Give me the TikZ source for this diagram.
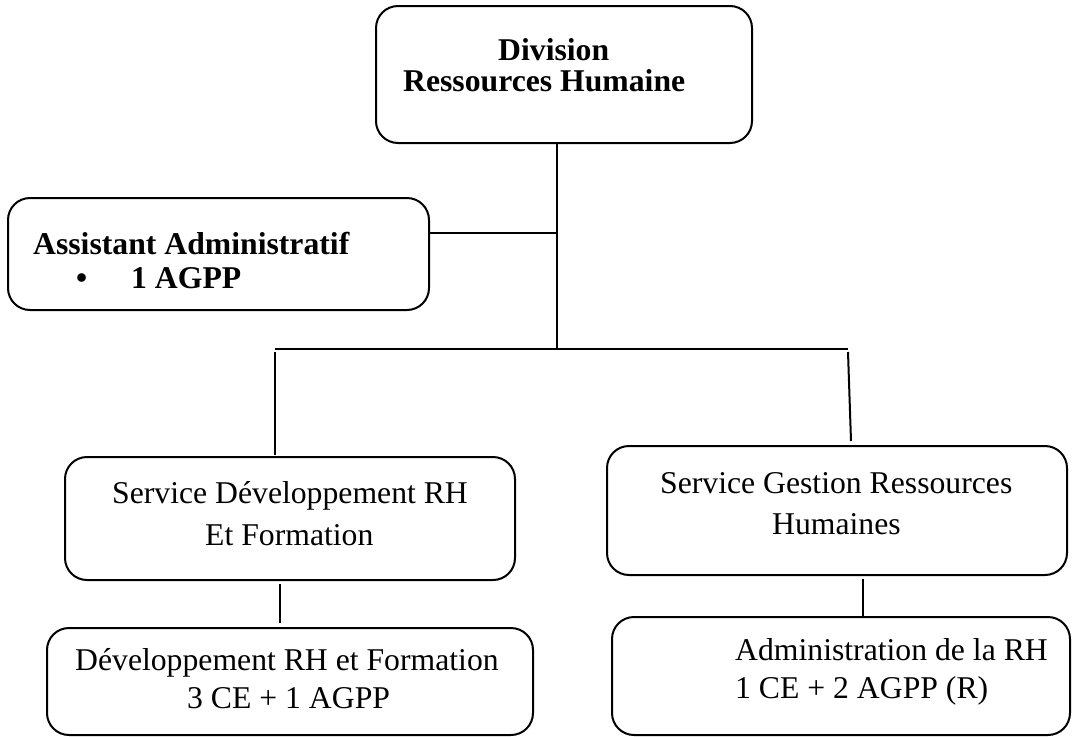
\documentclass[tikz,border=0pt]{standalone}
\usepackage{fontspec}
\setmainfont{Liberation Serif}
\newcommand{\chartfont}{\fontsize{31.7}{38}\selectfont}
\begin{document}
\begin{tikzpicture}[x=1pt,y=-1pt,
  box/.style={draw, line width=2pt, rounded corners=22pt, inner sep=0pt, outer sep=0pt},
  txt/.style={anchor=base west, inner sep=0pt, font=\chartfont},
  link/.style={line width=2pt}]
\useasboundingbox (0,0) rectangle (1072,737);

% boxes
\node[box, minimum width=376pt, minimum height=137pt] (div)  at (564,74.5) {};
\node[box, minimum width=421pt, minimum height=112pt] (asst) at (218.5,254) {};
\node[box, minimum width=450pt, minimum height=123pt] (sdev) at (290,518.5) {};
\node[box, minimum width=460pt, minimum height=129pt] (sgrh) at (837,510.5) {};
\node[box, minimum width=486pt, minimum height=107pt] (dev)  at (290,681.5) {};
\node[box, minimum width=458pt, minimum height=118pt] (adm)  at (841,676) {};

% texts
\node[txt] (t1) at (498,60) {\bfseries Division};
\node[txt] (t2) at (403,91) {\bfseries Ressources Humaine};
\node[txt] (t3) at (33,254) {\bfseries Assistant Administratif};
\node[txt] (t4) at (76,288) {\bfseries •};
\node[txt] (t5) at (131,288) {\bfseries 1 AGPP};
\node[txt] (t6) at (112,503) {Service Développement RH};
\node[txt] (t7) at (205,545) {Et Formation};
\node[txt] (t8) at (660,493) {Service Gestion Ressources};
\node[txt] (t9) at (772,534) {Humaines};
\node[txt] (t10) at (75,670) {Développement RH et Formation};
\node[txt] (t11) at (187,708) {3 CE + 1 AGPP};
\node[txt] (t12) at (735,660) {Administration de la RH};
\node[txt] (t13) at (735,698) {1 CE + 2 AGPP (R)};

% junction points of the tree
\coordinate (bus)  at (557,349);
\coordinate (tap)  at (557,233);
\coordinate (busL) at (275,349);
\coordinate (busR) at (848,349);

% connectors (yshift is upward on the page)
\draw[link] (div.south -| bus) -- (bus);
\draw[link] (asst.east |- tap) -- (tap);
\draw[link] (busL) -- (busR);
\draw[link] ([yshift=-3pt]busL) -- ([yshift=2pt]sdev.north -| busL);
\draw[link] ([yshift=-3pt]busR) -- ([xshift=14pt,yshift=5pt]sgrh.north);
\draw[link] ([xshift=-10pt,yshift=-4pt]sdev.south) -- ([xshift=-10pt,yshift=5pt]dev.north);
\draw[link] ([xshift=26pt,yshift=-4pt]sgrh.south) -- ([xshift=22pt]adm.north);
\end{tikzpicture}
\end{document}
